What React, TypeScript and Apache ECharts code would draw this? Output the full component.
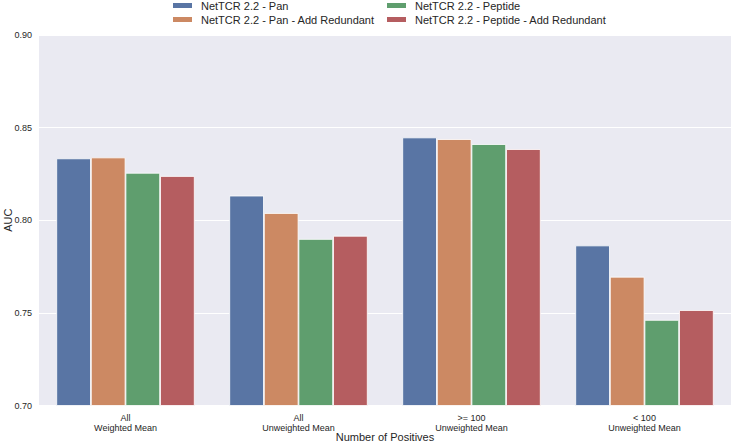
import React, { useEffect, useRef } from "react";
import * as echarts from "echarts";

const categories = [
  "All\nWeighted Mean",
  "All\nUnweighted Mean",
  ">= 100\nUnweighted Mean",
  "< 100\nUnweighted Mean",
];
const seriesNames = [
  "NetTCR 2.2 - Pan",
  "NetTCR 2.2 - Pan - Add Redundant",
  "NetTCR 2.2 - Peptide",
  "NetTCR 2.2 - Peptide - Add Redundant",
];
const panValues = [0.8334, 0.8133, 0.8447, 0.7864];
const panRedundantValues = [0.8339, 0.8039, 0.8438, 0.7695];
const peptideValues = [0.8256, 0.7899, 0.8411, 0.7462];
const peptideRedundantValues = [0.8239, 0.7916, 0.8384, 0.7515];
const colors = ["#5975A4", "#CC8963", "#5F9E6E", "#B55D60"];
const yTicks = { min: 0.7, max: 0.9, interval: 0.05 };

const FONT = "'Liberation Sans', Arial, sans-serif";

export default function App() {
  const ref = useRef<HTMLDivElement>(null);
  useEffect(() => {
    if (!ref.current) return;
    const chart = echarts.init(ref.current, null, { renderer: "svg" });
    const allValues = [panValues, panRedundantValues, peptideValues, peptideRedundantValues];
    const legendCommon = {
      orient: "vertical" as const,
      top: -1,
      padding: [0, 5, 0, 5],
      itemWidth: 21,
      itemHeight: 7,
      itemGap: 1,
      textStyle: { fontFamily: FONT, fontSize: 11, color: "#262626", lineHeight: 13, padding: [0, 0, 0, 3] },
      icon: "rect",
    };
    chart.setOption({
      animation: false,
      backgroundColor: "#ffffff",
      color: colors,
      textStyle: { fontFamily: FONT },
      legend: [
        { ...legendCommon, left: 166, data: [seriesNames[0], seriesNames[1]] },
        { ...legendCommon, left: 380, data: [seriesNames[2], seriesNames[3]] },
      ],
      grid: {
        left: 39,
        right: 2,
        top: 35,
        bottom: 37.5,
        show: true,
        backgroundColor: "#EAEAF2",
        borderWidth: 0,
        containLabel: false,
        outerBoundsMode: "none",
      },
      xAxis: {
        type: "category",
        data: categories,
        name: "Number of Positives",
        nameLocation: "middle",
        nameGap: 26,
        nameMoveOverlap: false,
        nameTextStyle: { fontFamily: FONT, fontSize: 11, color: "#262626", verticalAlign: "top" },
        axisLine: { show: false },
        axisTick: { show: false },
        axisLabel: {
          fontFamily: FONT,
          fontSize: 9,
          lineHeight: 10,
          color: "#262626",
          margin: 7,
        },
        splitLine: { show: false },
      },
      yAxis: {
        type: "value",
        min: yTicks.min,
        max: yTicks.max,
        interval: yTicks.interval,
        name: "AUC",
        nameLocation: "middle",
        nameGap: 26,
        nameMoveOverlap: false,
        nameTextStyle: { fontFamily: FONT, fontSize: 11, color: "#262626" },
        axisLine: { show: false },
        axisTick: { show: false },
        axisLabel: {
          fontFamily: FONT,
          fontSize: 9,
          color: "#262626",
          margin: 7,
          formatter: (v: number) => v.toFixed(2),
        },
        splitLine: { show: true, lineStyle: { color: "#ffffff", width: 1 } },
      },
      series: seriesNames.map((name, i) => ({
        name,
        type: "bar",
        data: allValues[i],
        barGap: "0%",
        barCategoryGap: "20%",
        itemStyle: { color: colors[i], borderColor: "#ffffff", borderWidth: 0.8 },
      })),
    });
    return () => chart.dispose();
  }, []);
  return <div ref={ref} style={{ width: 733, height: 443, position: "absolute", left: 0, top: 0 }} />;
}
